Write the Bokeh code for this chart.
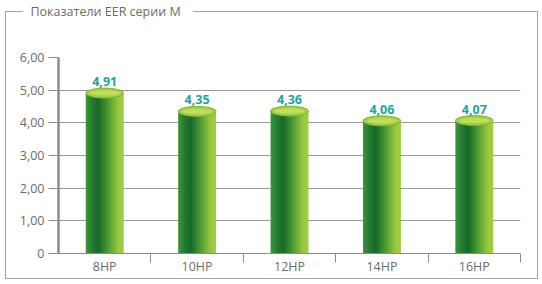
from bokeh.plotting import figure
from bokeh.models import FixedTicker, Range1d, ColumnDataSource, InlineStyleSheet, Title
from bokeh.core.properties import value
from bokeh.embed import file_html
from bokeh.resources import INLINE

# EER values of the M series by capacity
categories = ["8HP", "10HP", "12HP", "14HP", "16HP"]
eer = [4.91, 4.35, 4.36, 4.06, 4.07]
eer_labels = ["4,91", "4,35", "4,36", "4,06", "4,07"]
y_ticks = [0, 1, 2, 3, 4, 5, 6]
y_tick_labels = ["0", "1,00", "2,00", "3,00", "4,00", "5,00", "6,00"]

FONT = "Open Sans"
GREY = "#6b6b6b"
BAR_W = 0.41
N_STRIPS = 32

# horizontal shading across a cylinder, left -> right
stops = [(0.0, (64, 150, 60)), (0.18, (34, 122, 48)), (0.34, (22, 106, 42)),
         (0.60, (80, 156, 52)), (0.85, (150, 200, 62)), (1.0, (160, 206, 70))]


def shade(t):
    for (t0, c0), (t1, c1) in zip(stops[:-1], stops[1:]):
        if t0 <= t <= t1:
            f = (t - t0) / (t1 - t0)
            r, g, b = (round(a + (bb - a) * f) for a, bb in zip(c0, c1))
            return "#%02x%02x%02x" % (r, g, b)
    return "#%02x%02x%02x" % stops[-1][1]


centers = [i + 0.5 for i in range(len(categories))]

# each bar is split into narrow overlapping strips to fake the cylinder shading
strip_l, strip_r, strip_top, strip_color = [], [], [], []
w = BAR_W / N_STRIPS
for c, v in zip(centers, eer):
    left, right = c - BAR_W / 2, c + BAR_W / 2
    for k in range(N_STRIPS):
        strip_l.append(left + k * w)
        strip_r.append(min(left + (k + 1.7) * w, right))
        strip_top.append(v)
        strip_color.append(shade((k + 0.5) / N_STRIPS))

# outer frame around the chart; a notch is cut out of its top edge for the caption
frame_css = InlineStyleSheet(css="""
:host { position: relative; }
:host::before {
  content: ""; position: absolute; left: 5px; top: 11px;
  width: 531px; height: 266px;
  border: 1px solid #a3a3a3;
  clip-path: polygon(0 0, 18px 0, 18px 3px, 188px 3px, 188px 0,
                     100% 0, 100% 100%, 0 100%);
  pointer-events: none; z-index: 10;
}
""")

p = figure(width=542, height=284, output_backend="svg", toolbar_location=None,
           x_range=Range1d(0, len(categories)), y_range=Range1d(0, 6),
           min_border_left=58, min_border_right=22, min_border_top=0,
           min_border_bottom=31, stylesheets=[frame_css])
p.outline_line_color = None
p.background_fill_color = "white"
p.border_fill_color = "white"

# empty band between the caption and the plotting area
p.add_layout(Title(text=" ", text_font_size="10px", standoff=25), "above")

p.title.text = "Показатели EER серии М"
p.title.align = "left"
p.title.offset = -28
p.title.standoff = 0
p.title.text_font = FONT
p.title.text_font_size = "12.5px"
p.title.text_font_style = "normal"
p.title.text_color = GREY

# cylinder bodies
src = ColumnDataSource(dict(left=strip_l, right=strip_r, top=strip_top, color=strip_color))
p.quad(left="left", right="right", top="top", bottom=0, source=src,
       fill_color="color", line_color=None)

# cylinder caps
p.ellipse(x=centers, y=eer, width=BAR_W, height=10, height_units="screen",
          fill_color="#a6cf48", line_color="#7fb336", line_width=1)
p.ellipse(x=centers, y=eer, width=BAR_W * 0.8, height=5, height_units="screen",
          fill_color="#c0de5c", line_color=None)

# value labels
p.text(x=centers, y=eer, text=eer_labels, y_offset=-7, text_align="center",
       text_baseline="bottom", text_font=value(FONT), text_font_style="bold",
       text_font_size="12.5px", text_color="#1ba69a")

# axes
p.yaxis.ticker = FixedTicker(ticks=y_ticks)
p.yaxis.major_label_overrides = {t: s for t, s in zip(y_ticks, y_tick_labels)}
p.yaxis.axis_line_color = "#8c8c8c"
p.yaxis.axis_line_width = 2.5
p.yaxis.major_tick_out = 10
p.yaxis.major_tick_in = 0
p.yaxis.major_tick_line_color = "#8c8c8c"
p.yaxis.minor_tick_line_color = None
p.yaxis.major_label_standoff = 4
p.yaxis.major_label_text_font = FONT
p.yaxis.major_label_text_font_size = "12.5px"
p.yaxis.major_label_text_color = GREY

p.xaxis.ticker = FixedTicker(ticks=centers,
                             minor_ticks=list(range(1, len(categories) + 1)))
p.xaxis.major_label_overrides = {c: s for c, s in zip(centers, categories)}
p.xaxis.axis_line_color = "#8c8c8c"
p.xaxis.major_tick_line_color = None
p.xaxis.major_tick_out = 0
p.xaxis.major_tick_in = 0
p.xaxis.minor_tick_out = 9
p.xaxis.minor_tick_in = 0
p.xaxis.minor_tick_line_color = "#8c8c8c"
p.xaxis.major_label_standoff = -5
p.xaxis.major_label_text_font = FONT
p.xaxis.major_label_text_font_size = "12.5px"
p.xaxis.major_label_text_color = GREY

p.ygrid.ticker = FixedTicker(ticks=y_ticks)
p.ygrid.grid_line_color = "#9a9a9a"
p.xgrid.visible = False

open("out.html", "w").write(file_html(p, INLINE))
